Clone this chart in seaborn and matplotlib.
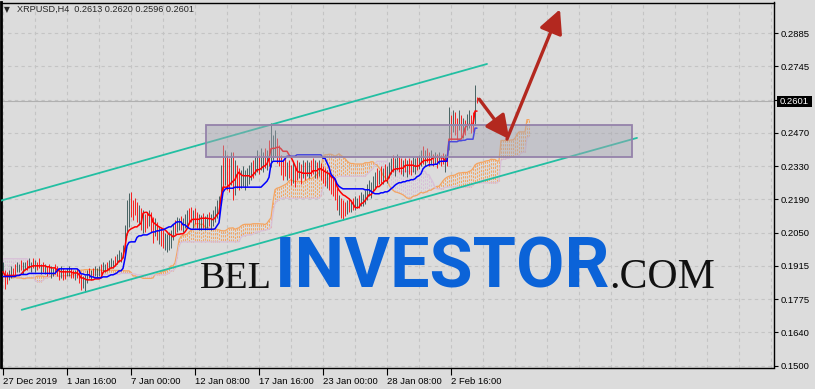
import numpy as np
import pandas as pd
import matplotlib
matplotlib.use("Agg")
import matplotlib.pyplot as plt
import seaborn as sns
from matplotlib.patches import Rectangle, FancyArrowPatch

# ---------------- data (prices x 1e4) ----------------
symbol = "XRPUSD,H4"
last_ohlc = ["0.2613", "0.2620", "0.2596", "0.2601"]
last_price = 0.2601

# history before the first visible bar (needed for the Ichimoku cloud)
pre_high = [2060, 2080, 2100, 2090, 2110, 2130, 2120, 2100, 2080, 2090,
            2110, 2100, 2120, 2130, 2110, 2060, 2010, 1950, 1900, 1850,
            1820, 1840, 1870, 1860, 1880, 1910, 1930, 1920, 1900, 1910,
            1940, 1930, 1910, 1900, 1890, 1900, 1920, 1910, 1900, 1890,
            1880, 1870, 1880, 1900, 1910, 1900, 1890, 1880, 1870, 1860,
            1880, 1900, 1910, 1920, 1910, 1900, 1890, 1880, 1870, 1860,
            1870, 1890, 1900, 1910, 1920, 1910, 1900, 1890, 1880, 1890,
            1900, 1910, 1900, 1890, 1900, 1910, 1920, 1930]
pre_low = [2020, 2030, 2050, 2040, 2060, 2070, 2080, 2050, 2040, 2050,
           2060, 2050, 2070, 2080, 2040, 1990, 1930, 1870, 1820, 1780,
           1760, 1770, 1800, 1790, 1820, 1840, 1870, 1860, 1850, 1860,
           1880, 1870, 1860, 1850, 1840, 1850, 1860, 1860, 1850, 1840,
           1830, 1820, 1830, 1850, 1860, 1850, 1840, 1830, 1820, 1810,
           1830, 1850, 1860, 1870, 1860, 1850, 1840, 1830, 1820, 1810,
           1820, 1840, 1850, 1860, 1870, 1860, 1850, 1840, 1840, 1850,
           1860, 1870, 1860, 1850, 1860, 1870, 1880, 1890]

high = [1932, 1899, 1890, 1899, 1915, 1907, 1924, 1932, 1924, 1940,
        1932, 1932, 1940, 1949, 1932, 1949, 1940, 1932, 1949, 1924,
        1932, 1924, 1915, 1924, 1915, 1907, 1924, 1915, 1907, 1915,
        1907, 1899, 1907, 1915, 1907, 1899, 1899, 1907, 1899, 1882,
        1874, 1878, 1899, 1907, 1899, 1907, 1915, 1907, 1915, 1924,
        1932, 1924, 1932, 1940, 1949, 1940, 1957, 1965, 1982, 1974,
        2003, 2087, 2191, 2220, 2224, 2191, 2199, 2183, 2170, 2158,
        2149, 2132, 2141, 2149, 2141, 2120, 2116, 2099, 2082, 2074,
        2066, 2053, 2049, 2057, 2066, 2091, 2107, 2120, 2116, 2124,
        2116, 2132, 2149, 2158, 2162, 2149, 2158, 2141, 2132, 2128,
        2137, 2124, 2132, 2141, 2132, 2149, 2166, 2191, 2208, 2337,
        2421, 2400, 2379, 2366, 2391, 2391, 2358, 2337, 2325, 2316,
        2333, 2316, 2325, 2337, 2350, 2358, 2375, 2400, 2379, 2408,
        2391, 2408, 2400, 2441, 2512, 2462, 2483, 2450, 2421, 2379,
        2358, 2366, 2350, 2358, 2337, 2350, 2333, 2358, 2350, 2341,
        2358, 2350, 2358, 2350, 2358, 2366, 2358, 2350, 2358, 2345,
        2333, 2325, 2316, 2308, 2295, 2283, 2266, 2241, 2212, 2199,
        2191, 2183, 2191, 2199, 2191, 2199, 2208, 2199, 2212, 2224,
        2216, 2233, 2258, 2274, 2266, 2291, 2308, 2325, 2316, 2333,
        2325, 2341, 2333, 2350, 2366, 2379, 2366, 2383, 2375, 2366,
        2358, 2366, 2358, 2366, 2358, 2370, 2366, 2375, 2379, 2400,
        2416, 2400, 2408, 2391, 2400, 2383, 2391, 2383, 2391, 2379,
        2387, 2383, 2400, 2579, 2546, 2567, 2558, 2533, 2567, 2546,
        2533, 2525, 2550, 2567, 2546, 2558, 2671, 2620]
low = [1890, 1819, 1840, 1857, 1865, 1874, 1874, 1890, 1890, 1899,
       1882, 1899, 1899, 1907, 1890, 1907, 1890, 1899, 1907, 1882,
       1890, 1882, 1874, 1882, 1865, 1874, 1882, 1874, 1857, 1865,
       1857, 1861, 1874, 1874, 1865, 1865, 1857, 1865, 1844, 1815,
       1823, 1807, 1844, 1865, 1857, 1874, 1874, 1865, 1874, 1882,
       1890, 1890, 1899, 1899, 1907, 1907, 1915, 1924, 1932, 1932,
       1949, 1961, 2045, 2078, 2120, 2107, 2128, 2099, 2087, 2066,
       2053, 2057, 2074, 2082, 2057, 2012, 2041, 2024, 2007, 1999,
       1990, 1982, 1974, 1982, 1990, 2024, 2049, 2057, 2066, 2066,
       2057, 2074, 2082, 2091, 2099, 2074, 2091, 2074, 2066, 2066,
       2074, 2066, 2074, 2082, 2066, 2082, 2099, 2116, 2128, 2170,
       2233, 2254, 2233, 2224, 2254, 2191, 2212, 2241, 2233, 2241,
       2250, 2233, 2250, 2258, 2274, 2283, 2295, 2308, 2299, 2316,
       2308, 2325, 2316, 2333, 2329, 2358, 2370, 2345, 2333, 2295,
       2274, 2291, 2274, 2283, 2254, 2262, 2245, 2274, 2283, 2258,
       2283, 2274, 2291, 2283, 2291, 2299, 2283, 2283, 2291, 2274,
       2262, 2250, 2241, 2233, 2216, 2208, 2191, 2149, 2128, 2116,
       2107, 2124, 2132, 2141, 2141, 2149, 2149, 2158, 2158, 2166,
       2166, 2174, 2191, 2208, 2199, 2224, 2241, 2250, 2258, 2262,
       2258, 2274, 2262, 2283, 2299, 2308, 2291, 2316, 2308, 2299,
       2291, 2308, 2287, 2299, 2295, 2308, 2299, 2316, 2320, 2333,
       2341, 2333, 2350, 2333, 2341, 2333, 2341, 2325, 2341, 2333,
       2341, 2308, 2333, 2400, 2441, 2475, 2462, 2441, 2483, 2454,
       2450, 2462, 2483, 2491, 2471, 2475, 2504, 2596]
direction = "".join([
    "udduudduud", "uuduududdu", "dudduudddu", "dduudduddd", "uuududuuud",
    "uuduuuduuu", "uuuuddddud", "udduddudud", "duuuuuduud", "uuuddudduu",
    "duuduuuuuu", "duddududdu", "uuuuuduudu", "ududuuuddd", "ddudduddud",
    "uduuddudud", "ddudddddud", "ddududuudu", "uuuuuuudud", "uduuuduudd",
    "ududduuduu", "duddududud", "dudududdud", "uduuddud"])

x_labels = ["27 Dec 2019", "1 Jan 16:00", "7 Jan 00:00", "12 Jan 08:00",
            "17 Jan 16:00", "23 Jan 00:00", "28 Jan 08:00", "2 Feb 16:00"]
y_labels = ["0.1500", "0.1640", "0.1775", "0.1915", "0.2050", "0.2190",
            "0.2330", "0.2470", "", "0.2745", "0.2885"]

# ---------------- style ----------------
BG = "#dcdcdc"
sns.set_theme(style="white")
plt.rcParams["font.family"] = ["Liberation Sans", "DejaVu Sans"]

W, H = 815, 389
fig = plt.figure(figsize=(W / 100, H / 100), dpi=100, facecolor=BG)
ax = fig.add_axes([1 / W, 1 - 367.5 / H, 773 / W, 365 / H], facecolor=BG)
ax.set_xlim(-1, 385.5)
ax.set_ylim(0.14917, 0.30133)

# ---------------- Ichimoku from the bars ----------------
n_pre = len(pre_high)
n = min(len(high), len(low), len(direction))
hi = pd.Series(np.array(pre_high + high[:n]) / 1e4)
lo = pd.Series(np.array(pre_low + low[:n]) / 1e4)
idx = np.arange(-n_pre, n)
tenkan = (hi.rolling(9).max() + lo.rolling(9).min()) / 2
kijun = (hi.rolling(26).max() + lo.rolling(26).min()) / 2
span_a = (tenkan + kijun) / 2
span_b = (hi.rolling(52).max() + lo.rolling(52).min()) / 2
cloud_x = idx + 26
ok = span_a.notna() & span_b.notna()
cx = cloud_x[ok.values]
ca = span_a[ok].values
cb = span_b[ok].values
ccol = np.where(ca >= cb, "#F4A460", "#D8BFD8")

# grid
yticks = [0.15 + k * 0.01385 for k in range(len(y_labels))]
for yv in yticks:
    ax.axhline(yv, color="#c4c4c4", lw=0.8, ls=(0, (3, 3)), zorder=0.2)
for xv in range(0, 386, 16):
    ax.axvline(xv, color="#c4c4c4", lw=0.8, ls=(0, (3, 3)), zorder=0.2)

# current price line
ax.axhline(last_price, color="#b0b0b0", lw=0.8, zorder=0.5)

# cloud
ax.vlines(cx, ca, cb, colors=ccol, lw=0.75, ls=(0, (2.2, 1.3)), zorder=1, alpha=0.95)
ax.plot(cx, ca, color="#F4A460", lw=0.9, zorder=1.1)
ax.plot(cx, cb, color="#D8BFD8", lw=0.9, zorder=1.1)

# bars
vis = idx >= 0
bx = idx[vis]
bcol = ["#2f4f4f" if d == "u" else "#ff0000" for d in direction[:n]]
ax.vlines(bx, lo.values[vis], hi.values[vis], colors=bcol, lw=0.6, zorder=2)

# tenkan / kijun
df = pd.DataFrame({"bar": bx, "tenkan": tenkan.values[vis], "kijun": kijun.values[vis]})
sns.lineplot(data=df, x="bar", y="tenkan", color="#ff0000", lw=1.1, ax=ax, zorder=3)
sns.lineplot(data=df, x="bar", y="kijun", color="#0000ff", lw=1.1, ax=ax, zorder=3)

# channel
ax.plot([-1.5, 242.0], [0.21863, 0.27571], color="#22bfa2", lw=1.3, zorder=4)
ax.plot([9.35, 317.0], [0.17321, 0.24488], color="#22bfa2", lw=1.3, zorder=4)

# zone rectangle
ax.add_patch(Rectangle((101.5, 0.23683), 212.75, 0.01346, facecolor="#a6a6b2",
                       alpha=0.45, edgecolor="none", zorder=5))
ax.add_patch(Rectangle((101.5, 0.23683), 212.75, 0.01346, facecolor="none",
                       edgecolor="#9482aa", lw=1.3, zorder=5.1))

# arrows
for (p0, p1) in [((238.15, 0.2610), (253.15, 0.24433)),
                 ((252.0, 0.2444), (278.5, 0.2985))]:
    ax.add_patch(FancyArrowPatch(p0, p1, arrowstyle="-|>,head_length=0.9,head_width=0.45",
                                 mutation_scale=16, color="#b3281f", lw=2.4,
                                 shrinkA=0, shrinkB=0, zorder=6))

# axes styling
for s in ax.spines.values():
    s.set_color("black")
    s.set_linewidth(1.0)
ax.spines["left"].set_linewidth(2.0)
ax.yaxis.tick_right()
ax.set_yticks(yticks)
ax.set_yticklabels(y_labels, fontsize=6.8)
ax.set_xticks([32 * k for k in range(len(x_labels))])
ax.set_xticklabels(x_labels, fontsize=6.8, ha="left")
ax.tick_params(axis="y", direction="out", length=3, width=0.8, pad=2, colors="black",
               right=True, left=False)
ax.tick_params(axis="x", direction="out", length=5, width=0.8, pad=2, colors="black",
               bottom=True)
ax.set_xlabel("")
ax.set_ylabel("")

# price box
fig.patches.append(Rectangle((777 / W, 1 - 106.5 / H), 35 / W, 10 / H, transform=fig.transFigure,
                             facecolor="black", edgecolor="none", zorder=10))
fig.text(794.5 / W, 1 - 101.5 / H, "0.2601", color="white", fontsize=6.8,
         ha="center", va="center", zorder=11)

# title
fig.text(4 / W, 1 - 9.5 / H, "\u25bc", fontsize=5.5, family="DejaVu Sans", va="center", ha="left")
fig.text(17 / W, 1 - 9.5 / H, symbol + "  " + " ".join(last_ohlc), fontsize=6.6,
         va="center", ha="left")

# watermark
renderer = fig.canvas.get_renderer()
base = 1 - 288 / H
t_bel = fig.text(272 / W, base, "BEL", family="Liberation Serif", fontsize=30,
                 ha="right", va="baseline", color="#111111", zorder=20)
t_inv = fig.text(275 / W, base, "INVESTOR", family=["Roboto", "DejaVu Sans"], weight="bold",
                 fontsize=50, ha="left", va="baseline", color="#0b63d8", zorder=20)
t_com = fig.text(609 / W, base, ".COM", family="Liberation Serif", fontsize=30,
                 ha="left", va="baseline", color="#111111", zorder=20)
for t, target in [(t_bel, 72), (t_inv, 335), (t_com, 106)]:
    bb = t.get_window_extent(renderer)
    t.set_fontsize(t.get_fontsize() * target / bb.width)

fig.savefig("out.png", dpi=100, facecolor=BG)
